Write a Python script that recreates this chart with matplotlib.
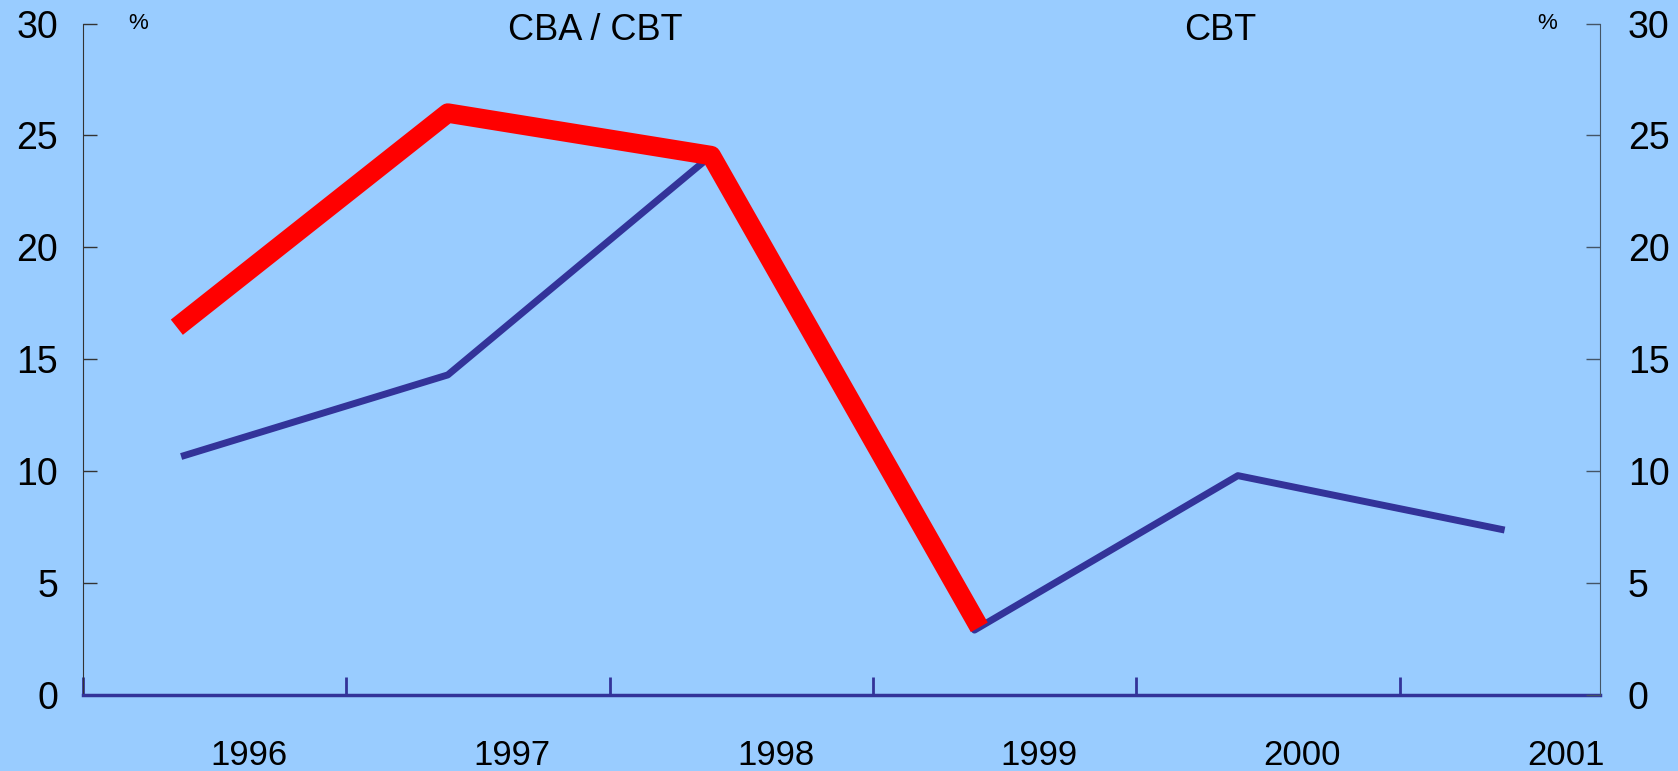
import matplotlib.pyplot as plt

plt.rcParams['font.family'] = ['Liberation Sans', 'DejaVu Sans']

years = ['1996', '1997', '1998', '1999', '2000', '2001']
cbt = [10.7, 14.3, 24.1, 2.9, 9.8, 7.4]
cba_cbt = [16.7, 26.0, 24.1, 3.4]

bg = '#99ccff'
navy = '#333399'


def main():
    fig = plt.figure(figsize=(16.78, 7.71), dpi=100, facecolor=bg)
    ax = fig.add_axes([0.0495, 0.0986, 0.904, 0.8709], facecolor=bg)

    # data points sit a bit inside each year's band
    pos = [i + 0.385 for i in range(len(cbt))]
    ax.plot(pos, cbt, color=navy, linewidth=5, solid_joinstyle='round', zorder=2)
    ax.plot(pos[:len(cba_cbt)], cba_cbt, color='#ff0000', linewidth=14,
            solid_joinstyle='round', zorder=3)

    ax.set_xlim(0, 5.76)
    ax.set_ylim(0, 30)
    ax.set_yticks(range(0, 31, 5))
    ax.tick_params(axis='y', direction='in', length=10, width=1, color='#333333',
                   labelsize=27, pad=18)

    ax.set_xticks(range(0, 6))
    ax.set_xticklabels([])
    ax.set_xticks([i + 0.63 for i in range(len(years))], minor=True)
    ax.set_xticklabels(years, minor=True)
    ax.tick_params(axis='x', which='major', direction='in', length=13, width=2, color=navy)
    ax.tick_params(axis='x', which='minor', length=0, labelsize=25, pad=32)

    for s in ['top', 'right']:
        ax.spines[s].set_visible(False)
    ax.spines['left'].set_color('#333333')
    ax.spines['bottom'].set_color(navy)
    ax.spines['bottom'].set_linewidth(2.5)

    ax2 = ax.twinx()
    ax2.set_ylim(0, 30)
    ax2.set_yticks(range(0, 31, 5))
    ax2.tick_params(axis='y', direction='in', length=10, width=1, color='#445566',
                    labelsize=27, pad=20)
    for s in ['top', 'left', 'bottom']:
        ax2.spines[s].set_visible(False)
    ax2.spines['right'].set_color('#445566')

    trans = ax.get_xaxis_transform()
    ax.text(1.946, 0.99, 'CBA / CBT', transform=trans, ha='center', va='center', fontsize=26)
    ax.text(4.317, 0.99, 'CBT', transform=trans, ha='center', va='center', fontsize=26)
    ax.text(0.21, 1.0, '%', transform=trans, ha='center', va='center', fontsize=16)
    ax.text(5.56, 1.0, '%', transform=trans, ha='center', va='center', fontsize=16)

    fig.savefig('out.png', dpi=100, facecolor=bg)


if __name__ == '__main__':
    main()
